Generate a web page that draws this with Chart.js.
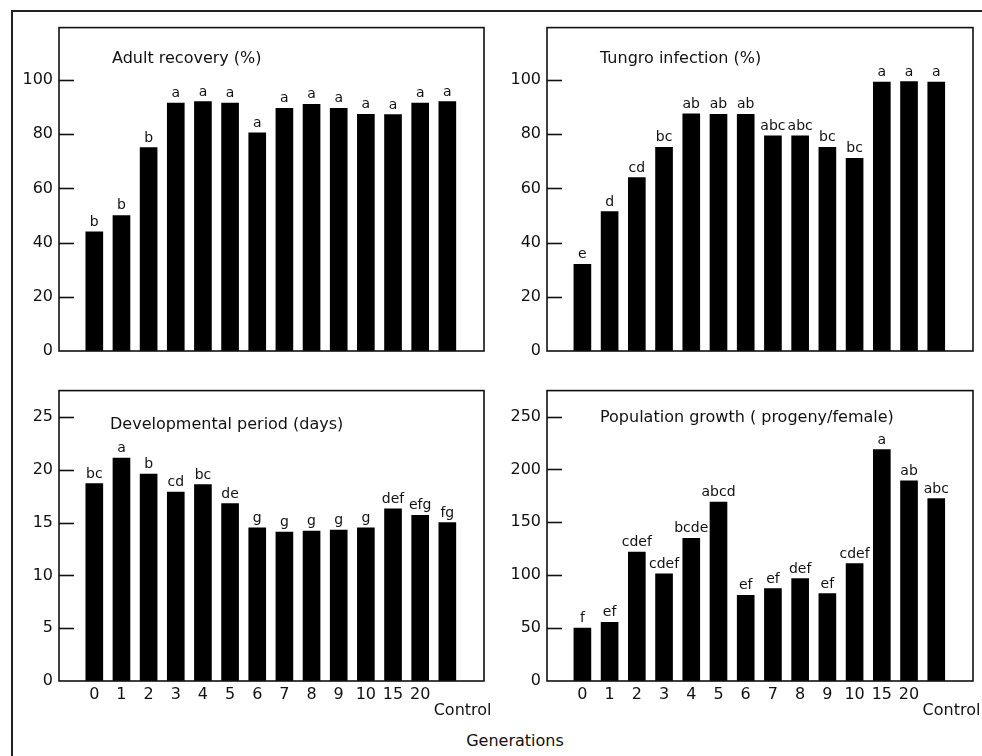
<!DOCTYPE html>
<html>
<head>
<meta charset="utf-8">
<script src="https://cdn.jsdelivr.net/npm/chart.js@4"></script>
<style>
  body { margin: 0; background: #fff; width: 982px; height: 756px; overflow: hidden; position: relative; font-family: "DejaVu Sans", sans-serif; }
  #frame { position: absolute; left: 11px; top: 10px; width: 990px; height: 760px; border-left: 2px solid #222; border-top: 2px solid #222; }
  canvas { position: absolute; }
  #gen { position: absolute; left: 415px; top: 731px; width: 200px; text-align: center; font-size: 16px; line-height: 20px; color: #111; }
</style>
</head>
<body>
<div id="frame"></div>
<canvas id="adult" width="474" height="363" style="left:14px;top:12px"></canvas>
<canvas id="tungro" width="475" height="363" style="left:502px;top:12px"></canvas>
<canvas id="devel" width="484" height="355" style="left:14px;top:375px"></canvas>
<canvas id="popul" width="480" height="355" style="left:502px;top:375px"></canvas>
<div id="gen">Generations</div>
<script>
// categories (generations)
const generations = ['0', '1', '2', '3', '4', '5', '6', '7', '8', '9', '10', '15', '20', 'Control'];

// values
const adultRecovery = [44, 50, 75, 91.5, 92, 91.5, 80.5, 89.5, 91, 89.5, 87.3, 87.2, 91.5, 92];
const adultLetters = ['b', 'b', 'b', 'a', 'a', 'a', 'a', 'a', 'a', 'a', 'a', 'a', 'a', 'a'];

const tungroInfection = [32, 51.4, 64, 75.1, 87.5, 87.3, 87.3, 79.4, 79.4, 75.1, 71.1, 99.2, 99.4, 99.2];
const tungroLetters = ['e', 'd', 'cd', 'bc', 'ab', 'ab', 'ab', 'abc', 'abc', 'bc', 'bc', 'a', 'a', 'a'];

const devPeriod = [18.7, 21.1, 19.6, 17.9, 18.6, 16.8, 14.5, 14.1, 14.2, 14.3, 14.5, 16.3, 15.7, 15.0];
const devLetters = ['bc', 'a', 'b', 'cd', 'bc', 'de', 'g', 'g', 'g', 'g', 'g', 'def', 'efg', 'fg'];

const popGrowth = [50, 55.5, 121.8, 101.3, 134.9, 169.1, 80.9, 87.3, 96.7, 82.7, 110.9, 218.8, 189.1, 172.5];
const popLetters = ['f', 'ef', 'cdef', 'cdef', 'bcde', 'abcd', 'ef', 'ef', 'def', 'ef', 'cdef', 'a', 'ab', 'abc'];

// tick labels
const percentTicks = [0, 20, 40, 60, 80, 100];
const dayTicks = [0, 5, 10, 15, 20, 25];
const progenyTicks = [0, 50, 100, 150, 200, 250];

const FONT = '"DejaVu Sans", sans-serif';
const INK = '#111';

// box around plot, inward tick marks, panel title and the letters over the bars
const panelDeco = {
  id: 'panelDeco',
  afterDatasetsDraw(chart, args, opts) {
    const ctx = chart.ctx;
    const a = chart.chartArea;
    const y = chart.scales.y;
    ctx.save();
    ctx.strokeStyle = INK;
    ctx.lineWidth = 1.6;
    ctx.strokeRect(a.left, a.top, a.right - a.left, a.bottom - a.top);
    opts.ticks.forEach(v => {
      if (v === 0) return;
      const py = Math.round(y.getPixelForValue(v)) + 0.5;
      ctx.beginPath();
      ctx.moveTo(a.left, py);
      ctx.lineTo(a.left + 15, py);
      ctx.stroke();
    });
    ctx.fillStyle = INK;
    ctx.font = '16px ' + FONT;
    ctx.textAlign = 'left';
    ctx.textBaseline = 'middle';
    ctx.fillText(opts.title, a.left + opts.tx, a.top + opts.ty);
    ctx.font = '14px ' + FONT;
    ctx.textAlign = 'center';
    ctx.textBaseline = 'alphabetic';
    chart.getDatasetMeta(0).data.forEach((bar, i) => {
      ctx.fillText(opts.letters[i], bar.x, bar.y - 6);
    });
    ctx.restore();
  }
};

function makePanel(id, values, letters, yTicks, yMax, title, tx, ty, showX, padRight) {
  const pts = values.map((v, i) => ({ x: i, y: v }));
  new Chart(document.getElementById(id), {
    type: 'bar',
    data: {
      datasets: [{
        data: pts,
        backgroundColor: '#000',
        borderWidth: 0,
        barThickness: 17
      }]
    },
    options: {
      responsive: false,
      animation: false,
      layout: { padding: { top: showX ? 4 : 12, right: padRight, bottom: showX ? 0 : 24, left: 0 } },
      plugins: {
        legend: { display: false },
        tooltip: { enabled: false },
        panelDeco: { ticks: yTicks, letters: letters, title: title, tx: tx, ty: ty }
      },
      scales: {
        x: {
          type: 'linear',
          min: -1.3,
          max: 14.35,
          offset: false,
          grid: { display: false, drawTicks: false },
          border: { display: false },
          afterBuildTicks: s => { s.ticks = generations.map((g, i) => ({ value: i })); },
          afterFit: s => {
            s.height = showX ? 49 : 0;
            s.paddingLeft = 0;
            s.paddingRight = 0;
          },
          ticks: {
            display: showX,
            autoSkip: false,
            maxRotation: 0,
            padding: 6,
            color: INK,
            font: { family: FONT, size: 16, lineHeight: 1.0 },
            callback: v => {
              const g = generations[v];
              return g === 'Control' ? ['', '      ' + g] : g;
            }
          }
        },
        y: {
          min: 0,
          max: yMax,
          grid: { display: false, drawTicks: false },
          border: { display: false },
          afterBuildTicks: s => { s.ticks = yTicks.map(v => ({ value: v })); },
          afterFit: s => { s.width = 45; },
          ticks: {
            padding: 6,
            color: INK,
            font: { family: FONT, size: 16 }
          }
        }
      }
    },
    plugins: [panelDeco]
  });
}

makePanel('adult', adultRecovery, adultLetters, percentTicks, 119.3, 'Adult recovery (%)', 53, 31, false, 4);
makePanel('tungro', tungroInfection, tungroLetters, percentTicks, 119.3, 'Tungro infection (%)', 53, 31, false, 4);
makePanel('devel', devPeriod, devLetters, dayTicks, 27.5, 'Developmental period (days)', 51, 34, true, 14);
makePanel('popul', popGrowth, popLetters, progenyTicks, 274.5, 'Population growth ( progeny/female)', 53, 27, true, 9);
</script>
</body>
</html>
